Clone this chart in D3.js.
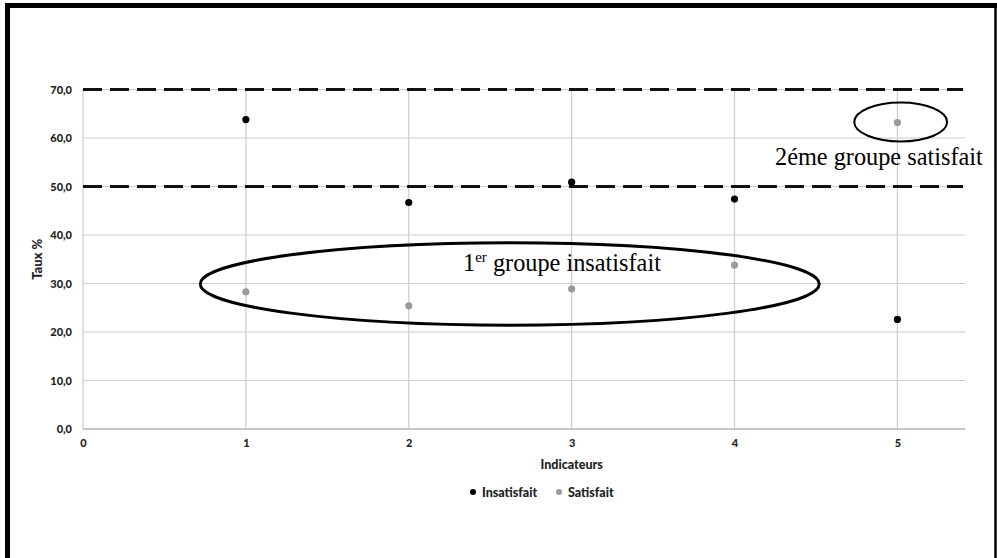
<!DOCTYPE html>
<html>
<head>
<meta charset="utf-8">
<script src="https://cdn.jsdelivr.net/npm/d3@7"></script>
<style>
html,body{margin:0;padding:0;background:#fff;}
svg{display:block;}
</style>
</head>
<body>
<svg id="chart" width="997" height="558"></svg>
<script>
// ---- data ----
const indicators = [1, 2, 3, 4, 5];
const insatisfait = [63.8, 46.7, 50.9, 47.4, 22.6];
const satisfait = [28.3, 25.4, 28.9, 33.8, 63.2];
const seriesNames = ["Insatisfait", "Satisfait"];
const xTicks = [0, 1, 2, 3, 4, 5];
const yTicks = [0, 10, 20, 30, 40, 50, 60, 70];
const thresholds = [50, 70];
const note1 = "groupe insatisfait";
const note2 = "2éme groupe satisfait";

const svg = d3.select("#chart");
const W = 997, H = 558;
const sans = "Lato, 'Open Sans', sans-serif";
const serif = "'Liberation Serif', 'Times New Roman', serif";

// outer frame
svg.append("rect").attr("x", 0).attr("y", 0).attr("width", W).attr("height", H).attr("fill", "#fff");
svg.append("line").attr("x1", 5).attr("x2", 997).attr("y1", 5.5).attr("y2", 5.5).attr("stroke", "#000").attr("stroke-width", 5);
svg.append("line").attr("x1", 7.5).attr("x2", 7.5).attr("y1", 3).attr("y2", H).attr("stroke", "#000").attr("stroke-width", 5);
svg.append("line").attr("x1", 995.5).attr("x2", 995.5).attr("y1", 3).attr("y2", H).attr("stroke", "#000").attr("stroke-width", 2.5);

const x = d3.scaleLinear().domain([0, 5.415]).range([83, 965]);
const y = d3.scaleLinear().domain([0, 70]).range([429, 89.5]);

const grid = svg.append("g");
grid.selectAll(".hg").data(yTicks.filter(t => t > 0)).enter().append("line")
  .attr("x1", x(0)).attr("x2", x.range()[1])
  .attr("y1", d => y(d)).attr("y2", d => y(d))
  .attr("stroke", "#cccccc").attr("stroke-width", 1.2);
grid.selectAll(".vg").data(xTicks).enter().append("line")
  .attr("x1", d => x(d)).attr("x2", d => x(d))
  .attr("y1", y(0)).attr("y2", y(70))
  .attr("stroke", "#cccccc").attr("stroke-width", 1.2);
svg.append("line").attr("x1", x(0)).attr("x2", x.range()[1])
  .attr("y1", y(0)).attr("y2", y(0)).attr("stroke", "#b5b5b5").attr("stroke-width", 1.6);

const yAxis = d3.axisLeft(y).tickValues(yTicks).tickSize(0).tickPadding(11)
  .tickFormat(d => d3.format(".1f")(d).replace(".", ","));
const gy = svg.append("g").attr("transform", `translate(${x(0)},0)`).call(yAxis);
gy.select(".domain").remove();
gy.selectAll("text").attr("font-family", sans).attr("font-weight", "900")
  .attr("font-size", 11).attr("fill", "#222");

const xAxis = d3.axisBottom(x).tickValues(xTicks).tickSize(0).tickPadding(10).tickFormat(d3.format("d"));
const gx = svg.append("g").attr("transform", `translate(0,${y(0)})`).call(xAxis);
gx.select(".domain").remove();
gx.selectAll("text").attr("font-family", sans).attr("font-weight", "900")
  .attr("font-size", 11).attr("fill", "#222");

svg.append("text").attr("x", x(3)).attr("y", 469).attr("text-anchor", "middle")
  .attr("font-family", sans).attr("font-weight", "900").attr("font-size", 12.5)
  .attr("fill", "#222").text("Indicateurs");
svg.append("text").attr("transform", `translate(42,${y(35)}) rotate(-90)`).attr("text-anchor", "middle")
  .attr("font-family", sans).attr("font-weight", "900").attr("font-size", 13)
  .attr("fill", "#222").text("Taux %");

// threshold dashed lines
svg.selectAll(".thr").data(thresholds).enter().append("line")
  .attr("x1", x(0)).attr("x2", x.range()[1] - 2)
  .attr("y1", d => y(d)).attr("y2", d => y(d))
  .attr("stroke", "#111").attr("stroke-width", 3).attr("stroke-dasharray", "19,8");

// points
const colors = ["#000000", "#9a9a9a"];
[insatisfait, satisfait].forEach((vals, si) => {
  svg.append("g").selectAll("circle").data(vals).enter().append("circle")
    .attr("cx", (d, i) => x(indicators[i])).attr("cy", d => y(d))
    .attr("r", 3.6).attr("fill", colors[si]);
});

// annotation ellipses (data coordinates)
svg.append("ellipse").attr("cx", x(2.62)).attr("cy", y(29.9))
  .attr("rx", x(1.9) - x(0)).attr("ry", y(0) - y(8.5))
  .attr("fill", "none").attr("stroke", "#000").attr("stroke-width", 3);
svg.append("ellipse").attr("cx", x(5.02)).attr("cy", y(63.3))
  .attr("rx", x(0.285) - x(0)).attr("ry", y(0) - y(4))
  .attr("fill", "none").attr("stroke", "#000").attr("stroke-width", 2);

// annotation texts
const t1 = svg.append("text").attr("x", 463).attr("y", y(32.6))
  .attr("font-family", serif).attr("font-size", 24.3).attr("fill", "#000");
t1.append("tspan").text("1");
t1.append("tspan").attr("font-size", 15).attr("dy", -9).text("er");
t1.append("tspan").attr("dy", 9).text(" " + note1);

svg.append("text").attr("x", 775).attr("y", y(54.4))
  .attr("font-family", serif).attr("font-size", 24.3).attr("fill", "#000")
  .text(note2);

// legend
const leg = svg.append("g");
const legItems = [{n: seriesNames[0], c: colors[0], x: 473}, {n: seriesNames[1], c: colors[1], x: 559}];
legItems.forEach(it => {
  leg.append("circle").attr("cx", it.x).attr("cy", 492).attr("r", 3).attr("fill", it.c);
  leg.append("text").attr("x", it.x + 9).attr("y", 496.5).attr("font-family", sans)
    .attr("font-weight", "900").attr("font-size", 12.5).attr("fill", "#222").text(it.n);
});
</script>
</body>
</html>
